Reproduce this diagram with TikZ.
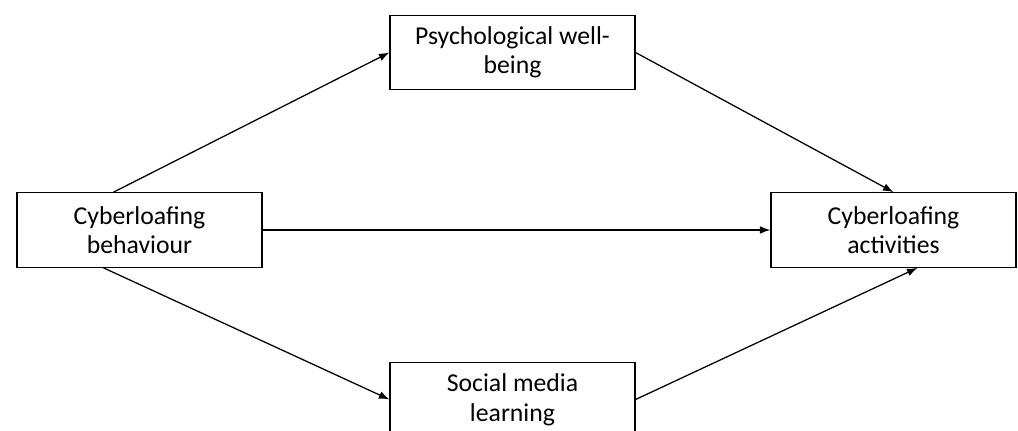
\documentclass[tikz,border=0pt]{standalone}
\usepackage{fontspec}
\setmainfont{Carlito}
\usetikzlibrary{arrows.meta}
\begin{document}
\begin{tikzpicture}[x=0.025cm,y=-0.025cm]
	 \tikzstyle{box}=[draw,line width=0.9pt,align=center,inner sep=0pt,font=\fontsize{18.3}{21}\selectfont]
	 \tikzstyle{wide box}=[box,minimum width=6.12cm,minimum height=1.86cm]
	 \tikzstyle{path}=[draw,line width=0.9pt,-{Latex[length=7.5pt,width=5.5pt]}]

	 \clip (0,0) rectangle (1018,430);

	 \node[wide box] (beh) at (139.5,230) {Cyberloafing\\behaviour};
	 \node[wide box] (pwb) at (512.5,52.5) {Psychological well-\\being};
	 \node[wide box] (sml) at (512.5,399.5) {Social media\\learning};
	 \node[wide box] (act) at (893.5,230) {Cyberloafing\\activities};

	 \draw[path] ([xshift=-0.65cm]beh.north) -- (pwb.west);
	 \draw[path] (pwb.east) -- (act.north);
	 \draw[path] (beh.east) -- (act.west);
	 \draw[path] ([xshift=-0.9cm]beh.south) -- (sml.west);
	 \draw[path] (sml.east) -- ([xshift=0.6cm]act.south);
\end{tikzpicture}
\end{document}
